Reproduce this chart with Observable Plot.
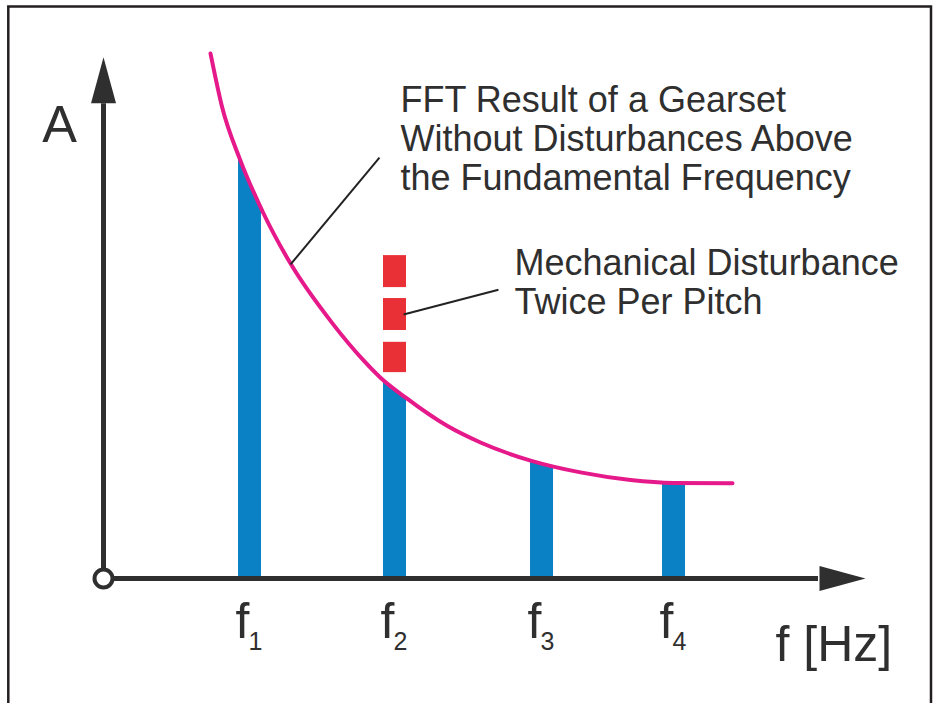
<!DOCTYPE html>
<html>
<head>
<meta charset="utf-8">
<script src="https://cdn.jsdelivr.net/npm/d3@7"></script>
<script src="https://cdn.jsdelivr.net/npm/@observablehq/plot@0.6"></script>
<style>
  html, body { margin: 0; padding: 0; background: #ffffff; overflow: hidden; }
</style>
</head>
<body>
<div id="chart"></div>
<script>
// ---- Data ----
// Harmonic lines f1..f4 (x in units of the fundamental, A in % of f1); tops are clipped by the envelope
const harmonicLabels = ["1", "2", "3", "4"];
const harmonicFreq = [1, 1.993, 3.0, 3.904];
const harmonicAmp = [100, 47.7, 28.0, 22.8];

// Mechanical disturbance (dashed red segments above f2)
const disturbanceFreq = [1.993, 1.993, 1.993];
const disturbanceLow = [48.9, 58.9, 69.1];
const disturbanceHigh = [56.1, 66.5, 76.7];

// FFT envelope curve (magenta)
const envelopeF = [0.733, 0.813, 0.932, 1.096, 1.281, 1.568, 1.781, 1.897, 2.068, 2.356, 2.582, 2.925, 3.267, 3.610, 3.904, 4.308];
const envelopeA = [124.7, 111.9, 99.8, 86.7, 74.8, 60.6, 51.8, 47.7, 43.0, 36.2, 32.3, 28.0, 25.2, 23.4, 22.7, 22.6];

// Axis extents
const xAxisTip = 5.219, xAxisBase = 4.897;
const yAxisTip = 123.8, yAxisBase = 112.8;

// Annotations
const annotationTexts = [
  "FFT Result of a Gearset\nWithout Disturbances Above\nthe Fundamental Frequency",
  "Mechanical Disturbance\nTwice Per Pitch"
];
const annotationX = [2.034, 2.815];
const annotationY = [92.4, 62.9];
const leaderX1 = [1.281, 2.055], leaderY1 = [74.6, 62.7];
const leaderX2 = [1.890, 2.705], leaderY2 = [100.0, 68.6];

const yLabel = "A", yLabelX = -0.301, yLabelY = 103.6;
const xLabel = "f [Hz]", xLabelX = 4.603, xLabelY = -19.5;

// ---- Build tables ----
const harmonics = harmonicLabels.map((l, i) => ({label: l, f: harmonicFreq[i], a: harmonicAmp[i]}));
const disturbance = disturbanceFreq.map((f, i) => ({f, lo: disturbanceLow[i], hi: disturbanceHigh[i]}));
const envelope = envelopeF.map((f, i) => ({f, a: envelopeA[i]}));
const annotations = annotationTexts.map((t, i) => ({t, x: annotationX[i], y: annotationY[i]}));
const leaders = leaderX1.map((x, i) => ({x1: x, y1: leaderY1[i], x2: leaderX2[i], y2: leaderY2[i]}));
const envelopeTop = d3.max(envelopeA);

const ink = "#2f2f2f";
const blue = "#0a80c5";
const magenta = "#e6198b";
const red = "#ea3037";

const arrowHead = {
  draw(context) {
    context.moveTo(0, 0);
    context.lineTo(12.5, 46);
    context.lineTo(-12.5, 46);
    context.closePath();
  }
};

const chart = Plot.plot({
  width: 937,
  height: 703,
  margin: 0,
  x: {domain: [-0.7055, 5.712], axis: null},
  y: {domain: [-29.7, 137.3], axis: null},
  style: {
    background: "#ffffff",
    color: ink,
    fontFamily: "'Liberation Sans', Arial, Helvetica, sans-serif"
  },
  marks: [
    Plot.frame({stroke: "#231f20", strokeWidth: 2.5, insetLeft: 7.8, insetTop: 6, insetRight: 6.5, insetBottom: -4}),
    // harmonic bars
    Plot.ruleX(harmonics, {x: "f", y1: 0, y2: "a", stroke: blue, strokeWidth: 23}),
    // white mask above the envelope (bars end at the curve)
    Plot.areaY(envelope, {x: "f", y1: "a", y2: envelopeTop, fill: "#ffffff", curve: "monotone-x"}),
    // axes lines
    Plot.ruleY([0], {x1: 0, x2: xAxisBase, stroke: ink, strokeWidth: 5}),
    Plot.ruleX([0], {y1: 0, y2: yAxisBase, stroke: ink, strokeWidth: 5}),
    // disturbance segments
    Plot.ruleX(disturbance, {x: "f", y1: "lo", y2: "hi", stroke: red, strokeWidth: 23}),
    // envelope curve
    Plot.line(envelope, {x: "f", y: "a", stroke: magenta, strokeWidth: 4, curve: "monotone-x"}),
    // leader lines
    Plot.link(leaders, {x1: "x1", y1: "y1", x2: "x2", y2: "y2", stroke: "#222222", strokeWidth: 2}),
    // origin circle
    Plot.dot([0], {x: 0, y: 0, r: 9, stroke: ink, strokeWidth: 4, fill: "#ffffff"}),
    // arrowheads
    Plot.dot([0], {x: 0, y: yAxisTip, symbol: arrowHead, fill: ink, stroke: "none"}),
    Plot.dot([0], {x: xAxisTip, y: 0, symbol: arrowHead, fill: ink, stroke: "none", rotate: 90}),
    // tick labels f with subscripts
    Plot.text(harmonics, {x: "f", y: 0, text: () => "f", dy: 60, dx: 0, textAnchor: "end", lineAnchor: "bottom", fontSize: 50, fill: ink}),
    Plot.text(harmonics, {x: "f", y: 0, text: "label", dy: 72, dx: -1, textAnchor: "start", lineAnchor: "bottom", fontSize: 25, fill: ink}),
    // axis labels
    Plot.text([yLabel], {x: yLabelX, y: yLabelY, text: d => d, textAnchor: "middle", lineAnchor: "bottom", fontSize: 52, fill: ink}),
    Plot.text([xLabel], {x: xLabelX, y: xLabelY, text: d => d, textAnchor: "start", lineAnchor: "bottom", fontSize: 50, fill: ink}),
    // annotations
    Plot.text(annotations, {x: "x", y: "y", text: "t", textAnchor: "start", lineAnchor: "bottom", lineHeight: 1.08, fontSize: 36, fill: ink})
  ]
});

document.getElementById("chart").appendChild(chart);
</script>
</body>
</html>
